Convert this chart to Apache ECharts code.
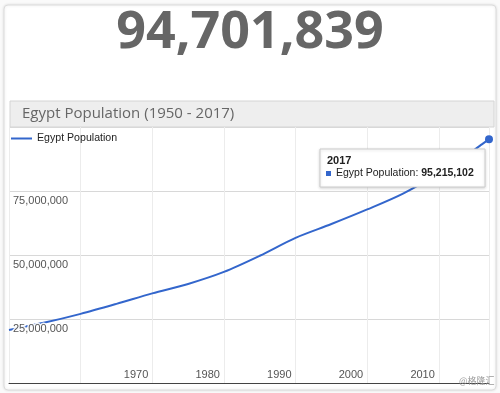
<!DOCTYPE html>
<html>
<head>
<meta charset="utf-8">
<script src="https://cdn.jsdelivr.net/npm/echarts@6/dist/echarts.min.js"></script>
<style>
html,body{margin:0;padding:0;background:#fafafa;}
#chart{width:500px;height:393px;}
</style>
</head>
<body>
<div id="chart"></div>
<script>
var headline = '94,701,839';
var chartTitle = 'Egypt Population (1950 - 2017)';
var seriesName = 'Egypt Population';
var years = [1950, 1955, 1960, 1965, 1970, 1975, 1980, 1985, 1990, 1995, 2000, 2005, 2010, 2015, 2016, 2017];
var population = [20700000, 23600000, 27000000, 30900000, 35000000, 38700000, 43400000, 49700000, 56700000, 62100000, 67800000, 74000000, 82000000, 91200000, 93200000, 95215102];
var xTickLabels = ['1970', '1980', '1990', '2000', '2010'];
var yTickLabels = ['25,000,000', '50,000,000', '75,000,000'];
var watermark = '@格隆汇';

var fmt = function (v) { return String(v).replace(/\B(?=(\d{3})+(?!\d))/g, ','); };
var lastIdx = years.length - 1;
var data = years.map(function (y, i) {
  var item = { value: [y, population[i]] };
  if (i === lastIdx) { item.symbol = 'circle'; item.symbolSize = 8; }
  return item;
});

var chart = echarts.init(document.getElementById('chart'));
var blue = '#3366cc';
var yBase = { type: 'value', min: 0, max: 100000000, interval: 25000000,
  axisLine: { show: false }, axisTick: { show: false } };
chart.setOption({
  animation: false,
  textStyle: { fontFamily: 'Liberation Sans, Arial, sans-serif' },
  grid: { left: 9, right: 11, top: 127, bottom: 10 },
  legend: {
    left: 11, top: 133, padding: 0, icon: 'rect', itemWidth: 21, itemHeight: 2, itemGap: 5,
    textStyle: { fontSize: 10.6, color: '#222', fontFamily: 'Liberation Sans, Arial, sans-serif' },
    data: [seriesName]
  },
  xAxis: {
    type: 'value', min: 1950, max: 2017, interval: 10,
    axisLine: { show: true, lineStyle: { color: '#444', width: 1 } },
    axisTick: { show: false },
    splitLine: { show: true, lineStyle: { color: '#ececec' } },
    axisLabel: {
      inside: true, margin: 3, verticalAlign: 'bottom', align: 'right',
      padding: [0, 4, 0, 0], fontSize: 11, color: '#555',
      showMinLabel: true, showMaxLabel: false,
      formatter: function (v) { var s = String(v); return xTickLabels.indexOf(s) >= 0 ? s : ''; }
    }
  },
  yAxis: [
    Object.assign({}, yBase, {
      splitLine: { show: true, lineStyle: { color: '#d8d8d8' } },
      axisLabel: { show: false }
    }),
    Object.assign({}, yBase, {
      position: 'left', z: 5,
      splitLine: { show: false },
      axisLabel: {
        inside: true, margin: 4, verticalAlign: 'top', padding: [4, 0, 0, 0],
        fontSize: 11, color: '#555', textBorderColor: 'rgba(255,255,255,0.9)', textBorderWidth: 3,
        formatter: function (v) { var s = fmt(v); return yTickLabels.indexOf(s) >= 0 ? s : ''; }
      }
    })
  ],
  series: [{
    name: seriesName, type: 'line', data: data, smooth: 0.3, z: 2, yAxisIndex: 0,
    showSymbol: true, symbol: 'none',
    lineStyle: { color: blue, width: 2 }, itemStyle: { color: blue }
  }],
  graphic: [
    { type: 'rect', z: -10, shape: { x: 4, y: 5, width: 492, height: 385, r: 4 },
      style: { fill: '#fff', stroke: '#dcdcdc', lineWidth: 1, shadowBlur: 3, shadowColor: 'rgba(0,0,0,0.12)' } },
    { type: 'text', left: 'center', top: 7, z: 10,
      style: { text: headline, font: 'bold 52px "Open Sans", sans-serif', fill: '#666' } },
    { type: 'rect', shape: { x: 10, y: 101, width: 484, height: 26 },
      style: { fill: '#eeeeee', stroke: '#d4d4d4', lineWidth: 1 } },
    { type: 'text', x: 22, y: 114,
      style: { text: chartTitle, font: '15px "Open Sans", sans-serif', fill: '#666', verticalAlign: 'middle' } },
    { type: 'rect', z: 50, shape: { x: 320, y: 149, width: 165, height: 38 },
      style: { fill: '#fff', stroke: '#cccccc', lineWidth: 1, shadowBlur: 3, shadowColor: 'rgba(0,0,0,0.15)', shadowOffsetY: 1 } },
    { type: 'text', z: 51, x: 327, y: 155,
      style: { text: String(years[lastIdx]), font: 'bold 11px "Liberation Sans", Arial, sans-serif', fill: '#222' } },
    { type: 'rect', z: 51, shape: { x: 326, y: 171, width: 5, height: 5 }, style: { fill: blue } },
    { type: 'text', z: 51, x: 336, y: 168,
      style: { text: '{a|' + seriesName + ': }{b|' + fmt(population[lastIdx]) + '}',
        rich: { a: { font: '10.5px "Liberation Sans", Arial, sans-serif', fill: '#222' },
                b: { font: 'bold 10.5px "Liberation Sans", Arial, sans-serif', fill: '#222' } } } },
    { type: 'text', x: 459, y: 376, z: 20,
      style: { text: watermark, font: '9px "Noto Sans CJK SC", sans-serif', fill: '#999' } }
  ]
});
</script>
</body>
</html>
